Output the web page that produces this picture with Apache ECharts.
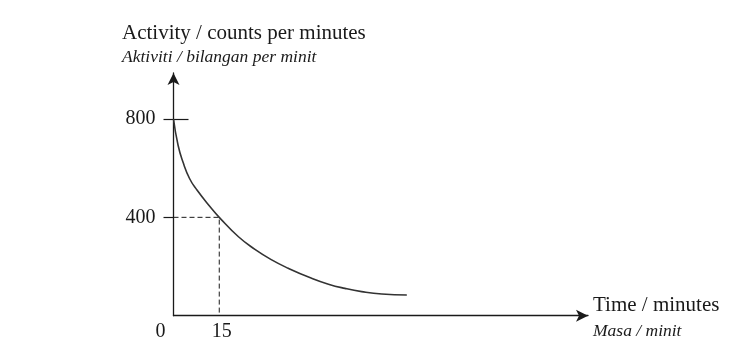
<!DOCTYPE html>
<html>
<head>
<meta charset="utf-8">
<script src="https://cdn.jsdelivr.net/npm/echarts@6/dist/echarts.min.js"></script>
<style>
html,body{margin:0;padding:0;background:#fff;}
#chart{width:752px;height:349px;}
</style>
</head>
<body>
<div id="chart"></div>
<script>
// Data
var timeMin = [0, 1.5, 3.1, 5.3, 7.7, 12, 15, 21.3, 26.7, 32.2, 37.6, 45.3, 50.8, 56.2, 61.7, 68.3, 76.5];
var activity = [800, 693, 625, 557, 511, 443, 400, 321, 270, 227, 193, 152, 128, 111, 98, 88, 84];
var halfLifeTime = [0, 15, 15];
var halfLifeActivity = [400, 400, 0];
var yTickValues = [400, 800];
var xTickValues = [0, 15];
var yTitle1 = 'Activity / counts per minutes';
var yTitle2 = 'Aktiviti / bilangan per minit';
var xTitle1 = 'Time / minutes';
var xTitle2 = 'Masa / minit';

var FONT = '"Liberation Serif", "Times New Roman", serif';
var INK = '#1a1a1a';

var chart = echarts.init(document.getElementById('chart'), null, {renderer: 'canvas'});

var curveData = timeMin.map(function (t, i) { return [t, activity[i]]; });
var dashData = halfLifeTime.map(function (t, i) { return [t, halfLifeActivity[i]]; });

chart.setOption({
  animation: false,
  backgroundColor: '#fff',
  grid: {left: 173.5, right: 164, top: 73, bottom: 33.3, containLabel: false},
  xAxis: {
    type: 'value', min: 0, max: 135.9,
    splitLine: {show: false},
    axisLine: {show: true, onZero: false, symbol: ['none', 'arrow'], symbolSize: [9, 12],
      lineStyle: {color: INK, width: 1.3}},
    axisTick: {show: false},
    axisLabel: {
      customValues: xTickValues, margin: 6,
      fontFamily: FONT, fontSize: 20, color: INK,
      formatter: function (v) { return v === 0 ? '{o|0}' : '{n|' + v + '}'; },
      rich: {
        o: {fontFamily: FONT, fontSize: 20, color: INK, padding: [0, 26, 0, 0]},
        n: {fontFamily: FONT, fontSize: 20, color: INK, padding: [0, 0, 0, 5]}
      }
    }
  },
  yAxis: [{
    type: 'value', min: 0, max: 987,
    splitLine: {show: false},
    axisLine: {show: true, onZero: false, symbol: ['none', 'arrow'], symbolSize: [9, 12],
      lineStyle: {color: INK, width: 1.3}},
    axisTick: {show: true, customValues: yTickValues, length: 10, lineStyle: {color: INK, width: 1.2}},
    axisLabel: {customValues: yTickValues, margin: 18, fontFamily: FONT, fontSize: 20, color: INK}
  }, {
    type: 'value', min: 0, max: 987, position: 'left',
    splitLine: {show: false},
    axisLine: {show: false},
    axisTick: {show: true, inside: true, customValues: [yTickValues[1]], length: 15, lineStyle: {color: INK, width: 1.2}},
    axisLabel: {show: false}
  }],
  series: [{
    type: 'line', data: curveData, smooth: 0.5, showSymbol: false, symbol: 'none',
    lineStyle: {color: '#333', width: 1.6}, z: 3
  }, {
    type: 'line', data: dashData, showSymbol: false, symbol: 'none',
    lineStyle: {color: INK, width: 1, type: [5, 3]}, z: 2
  }],
  graphic: [
    {type: 'text', left: 122, top: 23, style: {text: yTitle1, font: '21px ' + FONT, fill: INK}},
    {type: 'text', left: 122, top: 48, style: {text: yTitle2, font: 'italic 17.5px ' + FONT, fill: INK}},
    {type: 'text', left: 593, top: 295, style: {text: xTitle1, font: '21px ' + FONT, fill: INK}},
    {type: 'text', left: 593, top: 322, style: {text: xTitle2, font: 'italic 17.5px ' + FONT, fill: INK}}
  ]
});
</script>
</body>
</html>
